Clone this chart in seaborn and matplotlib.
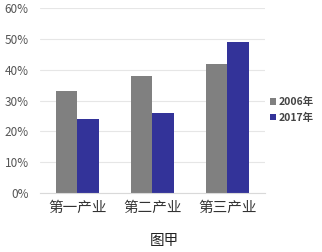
import numpy as np
import pandas as pd
import matplotlib
matplotlib.use("Agg")
import matplotlib.pyplot as plt
import seaborn as sns
from matplotlib.ticker import PercentFormatter

categories = ["第一产业", "第二产业", "第三产业"]
years = ["2006年", "2017年"]
values_2006 = [33, 38, 42]
values_2017 = [24, 26, 49]

df = pd.DataFrame({
    "产业": categories * 2,
    "年份": [years[0]] * 3 + [years[1]] * 3,
    "值": values_2006 + values_2017,
})

sns.set_style("white")
plt.rcParams['font.family'] = ['Noto Sans CJK SC', 'DejaVu Sans']

fig = plt.figure(figsize=(3.22, 2.52), dpi=100)
ax = fig.add_axes([0.124, 0.234, 0.699, 0.734])

sns.barplot(data=df, x="产业", y="值", hue="年份", order=categories,
            palette=["#808080", "#333399"], width=0.57, saturation=1,
            linewidth=0, ax=ax, legend=True)

ax.set_ylim(0, 60)
ax.set_yticks(np.arange(0, 61, 10))
ax.yaxis.set_major_formatter(PercentFormatter(decimals=0))
ax.set_xlim(-0.5, 2.5)
ax.grid(axis="y", color="#e6e6e6", linewidth=0.8)
ax.set_axisbelow(True)
for s in ["top", "right", "left"]:
    ax.spines[s].set_visible(False)
ax.spines["bottom"].set_color("#d9d9d9")
ax.tick_params(axis="y", labelsize=8.5, labelcolor="#555555", length=0, pad=8)
ax.tick_params(axis="x", labelsize=10.5, labelcolor="#333333", length=0, pad=6)
ax.set_xlabel("")
ax.set_ylabel("")

leg = ax.legend(loc="center left", bbox_to_anchor=(0.98, 0.45), frameon=False,
                fontsize=7.5, handlelength=0.6, handleheight=0.6,
                handletextpad=0.2, labelspacing=0.5)
for t in leg.get_texts():
    t.set_fontweight("bold")
    t.set_color("#444444")

fig.text(0.51, 0.045, "图甲", ha="center", va="center", fontsize=10.5, color="#222222")

fig.savefig("out.png", dpi=100)
